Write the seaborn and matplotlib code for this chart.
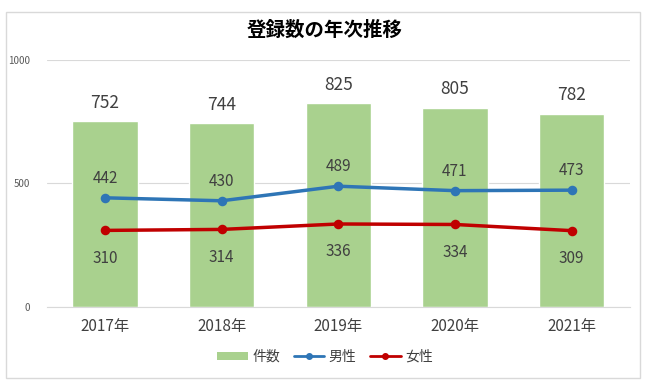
import matplotlib
matplotlib.use("Agg")
import matplotlib.pyplot as plt
from matplotlib.patches import Rectangle
from matplotlib.lines import Line2D
from matplotlib.patches import Patch
import seaborn as sns
import pandas as pd

years = ["2017年", "2018年", "2019年", "2020年", "2021年"]
total = [752, 744, 825, 805, 782]
male = [442, 430, 489, 471, 473]
female = [310, 314, 336, 334, 309]

sns.set_theme(style="white")
plt.rcParams['font.family'] = ['Noto Sans CJK JP', 'DejaVu Sans']

df = pd.DataFrame({"year": years, "件数": total, "男性": male, "女性": female})

fig = plt.figure(figsize=(6.5, 3.9), dpi=100)
ax = fig.add_axes([0.072, 0.213, 0.897, 0.633])

green = "#A9D18E"
blue = "#2E75B6"
red = "#C00000"
txt = "#404040"

sns.barplot(data=df, x="year", y="件数", color=green, width=0.56, ax=ax,
            saturation=1, zorder=2)
sns.pointplot(data=df, x="year", y="男性", color=blue, ax=ax, markers="o",
              markersize=5, linewidth=2.5, zorder=3)
sns.pointplot(data=df, x="year", y="女性", color=red, ax=ax, markers="o",
              markersize=5, linewidth=2.5, zorder=3)

for i, v in enumerate(total):
    ax.annotate(str(v), (i, v), xytext=(0, 7), textcoords="offset points",
                ha="center", va="bottom", fontsize=12.5, color=txt)
for i, v in enumerate(male):
    ax.annotate(str(v), (i, v), xytext=(0, 8), textcoords="offset points",
                ha="center", va="bottom", fontsize=11, color=txt)
for i, v in enumerate(female):
    ax.annotate(str(v), (i, v), xytext=(0, -14), textcoords="offset points",
                ha="center", va="top", fontsize=11, color=txt)

ax.set_ylim(0, 1000)
ax.set_xlim(-0.5, 4.5)
ax.set_yticks([0, 500, 1000])
ax.set_yticklabels(["0", "500", "1000"], fontsize=7, color="#595959")
ax.tick_params(axis="x", labelsize=11, colors=txt, length=0, pad=8)
ax.tick_params(axis="y", length=0, pad=12)
ax.set_xlabel("")
ax.set_ylabel("")
ax.yaxis.grid(True, color="#D9D9D9", linewidth=0.8, zorder=0)
ax.set_axisbelow(True)
for s in ["top", "right", "left"]:
    ax.spines[s].set_visible(False)
ax.spines["bottom"].set_color("#D9D9D9")
ax.spines["bottom"].set_linewidth(0.8)

handles = [
    Patch(facecolor=green, edgecolor="none"),
    Line2D([], [], color=blue, linewidth=2, marker="o", markersize=4),
    Line2D([], [], color=red, linewidth=2, marker="o", markersize=4),
]
labels = ["件数", "男性", "女性"]
leg = fig.legend(handles, labels, loc="center", bbox_to_anchor=(0.5, 0.085),
                 ncol=3, frameon=False, fontsize=10, handlelength=2.2,
                 handleheight=0.5, columnspacing=1.0, handletextpad=0.3)
for t in leg.get_texts():
    t.set_color(txt)

fig.text(0.5, 0.922, "登録数の年次推移", ha="center", va="center",
         fontsize=14, fontweight="bold", color="#000000")

fig.patches.append(Rectangle((0.009, 0.03), 0.976, 0.94, transform=fig.transFigure,
                             fill=False, edgecolor="#D9D9D9", linewidth=1))

fig.savefig("out.png", dpi=100)
